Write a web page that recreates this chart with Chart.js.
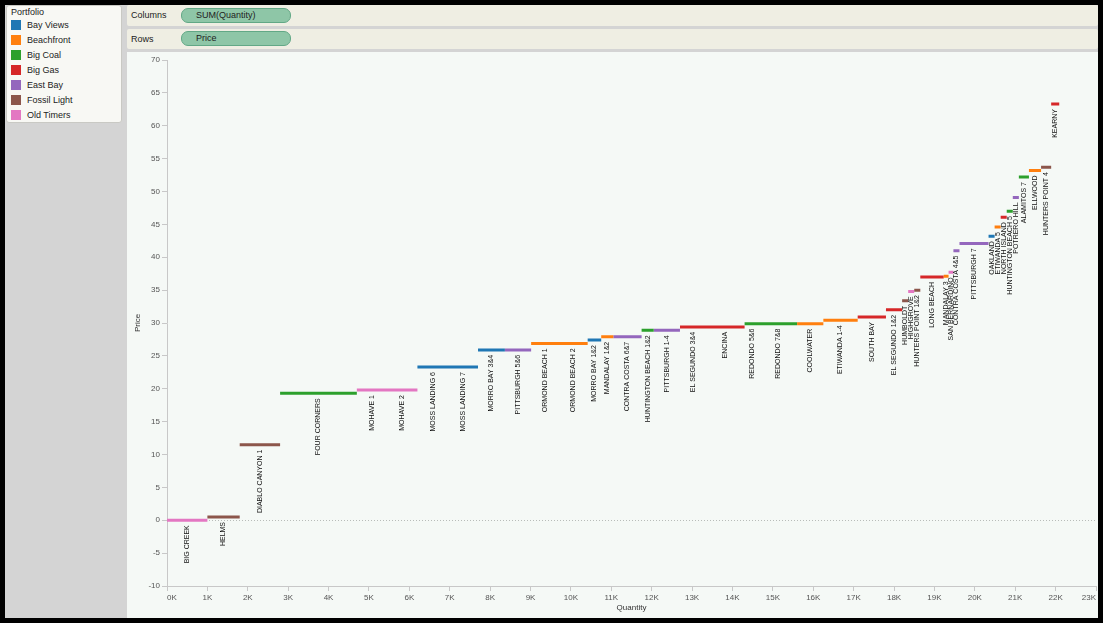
<!DOCTYPE html>
<html>
<head>
<meta charset="utf-8">
<script src="https://cdn.jsdelivr.net/npm/chart.js@4"></script>
<style>
  body { margin: 0; background: #000; font-family: "Liberation Sans", Arial, sans-serif; }
  .frame { position: relative; width: 1103px; height: 623px; overflow: hidden; background: #000; }
  .inner { position: absolute; left: 5px; top: 5px; width: 1093px; height: 613px; background: #d4d4d4; }
  .card { position: absolute; left: 6px; top: 5px; width: 116px; height: 118px; background: #f8f8f4;
          border: 1px solid #c9c9c4; border-radius: 3px; box-sizing: border-box; }
  .card .head { font-size: 9px; color: #222; padding: 1px 0 0 4px; height: 10px; }
  .item { height: 15px; display: flex; align-items: center; font-size: 9px; color: #222; }
  .sw { width: 10px; height: 10px; margin: 0 6px 0 4px; }
  .shelf { position: absolute; left: 127px; width: 971px; background: #efeee3; font-size: 9px; color: #222;
           border-radius: 2px; }
  .shelf span.lab { position: absolute; left: 4px; }
  .pill { position: absolute; left: 54px; width: 94px; height: 13px; background: #8ec6a7; border: 1px solid #62a886;
          border-radius: 7px; font-size: 9px; line-height: 13px; padding-left: 14px; box-sizing: content-box; }
  .plot { position: absolute; left: 127px; top: 52px; width: 971px; height: 566px; background: #f5f9f6; }
</style>
</head>
<body>
<div class="frame">
  <div class="inner"></div>
  <div class="card">
    <div class="head">Portfolio</div>
    <div id="legend"></div>
  </div>
  <div class="shelf" style="top:5px;height:21px;">
    <span class="lab" style="top:5px;">Columns</span>
    <div class="pill" style="top:3px;">SUM(Quantity)</div>
  </div>
  <div class="shelf" style="top:29px;height:20px;">
    <span class="lab" style="top:5px;">Rows</span>
    <div class="pill" style="top:2px;">Price</div>
  </div>
  <div class="plot"><canvas id="chart" width="971" height="566"></canvas></div>
</div>
<script>
// portfolios and their colours
var portfolioNames = ['Bay Views', 'Beachfront', 'Big Coal', 'Big Gas', 'East Bay', 'Fossil Light', 'Old Timers'];
var portfolioColors = ['#1f77b4', '#ff7f0e', '#2ca02c', '#d62728', '#9467bd', '#8c564b', '#e377c2'];

// plants in merit order
var plants = ['BIG CREEK', 'HELMS', 'DIABLO CANYON 1', 'FOUR CORNERS', 'MOHAVE 1', 'MOHAVE 2',
    'MOSS LANDING 6', 'MOSS LANDING 7', 'MORRO BAY 3&4', 'PITTSBURGH 5&6', 'ORMOND BEACH 1',
    'ORMOND BEACH 2', 'MORRO BAY 1&2', 'MANDALAY 1&2', 'CONTRA COSTA 6&7', 'HUNTINGTON BEACH 1&2',
    'PITTSBURGH 1-4', 'EL SEGUNDO 3&4', 'ENCINA', 'REDONDO 5&6', 'REDONDO 7&8', 'COOLWATER',
    'ETIWANDA 1-4', 'SOUTH BAY', 'EL SEGUNDO 1&2', 'HUMBOLDT', 'HIGHGROVE', 'HUNTERS POINT 1&2',
    'LONG BEACH', 'MANDALAY 3', 'SAN BERNARDINO', 'CONTRA COSTA 4&5', 'PITTSBURGH 7', 'OAKLAND',
    'ETIWANDA 5', 'NORTH ISLAND', 'HUNTINGTON BEACH 5', 'POTRERO HILL', 'ALAMITOS 7', 'ELLWOOD',
    'HUNTERS POINT 4', 'KEARNY'];
var plantPortfolio = ['Old Timers', 'Fossil Light', 'Fossil Light', 'Big Coal', 'Old Timers', 'Old Timers',
    'Bay Views', 'Bay Views', 'Bay Views', 'East Bay', 'Beachfront',
    'Beachfront', 'Bay Views', 'Beachfront', 'East Bay', 'Big Coal',
    'East Bay', 'Big Gas', 'Big Gas', 'Big Coal', 'Big Coal', 'Beachfront',
    'Beachfront', 'Big Gas', 'Big Gas', 'Fossil Light', 'Old Timers', 'Fossil Light',
    'Big Gas', 'Beachfront', 'Old Timers', 'East Bay', 'East Bay', 'Bay Views',
    'Beachfront', 'Big Gas', 'Big Coal', 'East Bay', 'Big Coal', 'Beachfront',
    'Fossil Light', 'Big Gas'];
var quantity = [1000, 800, 1000, 1900, 750, 750,
    750, 750, 665, 650, 700,
    700, 335, 300, 700, 300,
    650, 650, 950, 350, 950, 650,
    850, 700, 400, 150, 150, 150,
    580, 120, 120, 150, 720, 150,
    150, 150, 150, 150, 250, 300,
    250, 200];
var price = [0, 0.5, 11.5, 19.3, 19.8, 19.8,
    23.3, 23.3, 25.9, 25.9, 26.9,
    26.9, 27.4, 27.9, 27.9, 28.9,
    28.9, 29.4, 29.4, 29.9, 29.9, 29.9,
    30.4, 30.9, 32.0, 33.4, 34.8, 35.0,
    37.0, 37.1, 37.7, 41.0, 42.1, 43.2,
    44.6, 46.1, 47.0, 49.1, 52.2, 53.2,
    53.7, 63.3];

// legend card
var legendHtml = '';
portfolioNames.forEach(function (p, i) {
    legendHtml += '<div class="item"><div class="sw" style="background:' + portfolioColors[i] + '"></div>' + p + '</div>';
});
document.getElementById('legend').innerHTML = legendHtml;

// cumulative start of each plant along the quantity axis
var starts = [];
var total = 0;
quantity.forEach(function (q) { starts.push(total); total += q; });

// one dataset per portfolio, segments separated by gaps
var datasets = portfolioNames.map(function (p, i) {
    var pts = [];
    plants.forEach(function (name, j) {
        if (plantPortfolio[j] !== p) return;
        pts.push({x: starts[j], y: price[j]});
        pts.push({x: starts[j] + quantity[j], y: price[j]});
        pts.push({x: starts[j] + quantity[j], y: null});
    });
    return {
        label: p,
        data: pts,
        borderColor: portfolioColors[i],
        backgroundColor: portfolioColors[i],
        borderWidth: 3,
        borderCapStyle: 'butt',
        pointRadius: 0,
        spanGaps: false,
        tension: 0
    };
});

var zeroLine = {
    id: 'zeroLine',
    beforeDatasetsDraw: function (chart) {
        var ctx = chart.ctx, a = chart.chartArea;
        var y = Math.round(chart.scales.y.getPixelForValue(0)) + 0.5;
        ctx.save();
        ctx.strokeStyle = '#b8bcb9';
        ctx.lineWidth = 1;
        ctx.setLineDash([1, 2]);
        ctx.beginPath();
        ctx.moveTo(a.left, y);
        ctx.lineTo(a.right, y);
        ctx.stroke();
        ctx.restore();
    }
};

var plantLabels = {
    id: 'plantLabels',
    afterDatasetsDraw: function (chart) {
        var ctx = chart.ctx;
        var xs = chart.scales.x, ys = chart.scales.y;
        ctx.save();
        ctx.fillStyle = '#111';
        ctx.font = '7px "Liberation Sans", Arial, sans-serif';
        ctx.textAlign = 'right';
        ctx.textBaseline = 'middle';
        plants.forEach(function (name, j) {
            var cx = xs.getPixelForValue(starts[j] + quantity[j] / 2);
            var cy = ys.getPixelForValue(price[j]) + 5;
            ctx.save();
            ctx.translate(cx, cy);
            ctx.rotate(-Math.PI / 2);
            ctx.fillText(name, 0, 0);
            ctx.restore();
        });
        ctx.restore();
    }
};

var ctx = document.getElementById('chart');
new Chart(ctx, {
    type: 'line',
    data: { datasets: datasets },
    plugins: [zeroLine, plantLabels],
    options: {
        responsive: false,
        animation: false,
        layout: { padding: { top: 8, right: 1, left: 0, bottom: 0 } },
        plugins: {
            legend: { display: false },
            tooltip: { enabled: false }
        },
        scales: {
            x: {
                type: 'linear',
                min: 0,
                max: 23000,
                afterFit: function (s) { s.height = 32; },
                ticks: {
                    stepSize: 1000,
                    align: 'inner',
                    maxRotation: 0,
                    autoSkip: false,
                    padding: 2,
                    color: '#555',
                    font: { family: '"Liberation Sans", Arial, sans-serif', size: 8 },
                    callback: function (v) { return (v / 1000) + 'K'; }
                },
                grid: { drawOnChartArea: false, tickLength: 5, color: '#c8c8c8' },
                border: { color: '#c8c8c8' },
                title: {
                    display: true,
                    text: 'Quantity',
                    color: '#333',
                    padding: { top: 0, bottom: 5 },
                    font: { family: '"Liberation Sans", Arial, sans-serif', size: 8 }
                }
            },
            y: {
                min: -10,
                max: 70,
                afterFit: function (s) { s.width = 40; },
                ticks: {
                    stepSize: 5,
                    padding: 2,
                    color: '#555',
                    font: { family: '"Liberation Sans", Arial, sans-serif', size: 8 }
                },
                grid: { drawOnChartArea: false, tickLength: 5, color: '#c8c8c8' },
                border: { color: '#c8c8c8' },
                title: {
                    display: true,
                    text: 'Price',
                    color: '#333',
                    padding: { top: 6, bottom: 0 },
                    font: { family: '"Liberation Sans", Arial, sans-serif', size: 8 }
                }
            }
        }
    }
});
</script>
</body>
</html>
